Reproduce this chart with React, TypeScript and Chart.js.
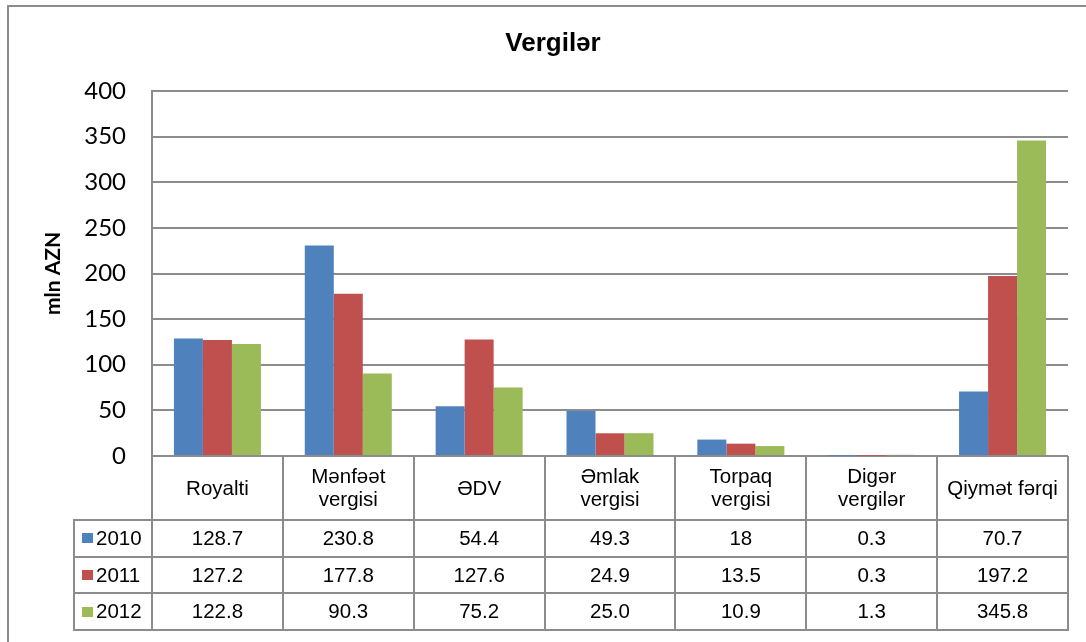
import React, { useEffect, useRef } from "react";
import { Chart, registerables } from "chart.js";

Chart.register(...registerables);

const TITLE = "Vergilər";
const Y_TITLE = "mln AZN";
const categories: string[][] = [
  ["Royalti"],
  ["Mənfəət", "vergisi"],
  ["ƏDV"],
  ["Əmlak", "vergisi"],
  ["Torpaq", "vergisi"],
  ["Digər", "vergilər"],
  ["Qiymət fərqi"],
];
const seriesNames = ["2010", "2011", "2012"];
const seriesColors = ["#4F81BD", "#C0504D", "#9BBB59"];
const values2010 = ["128.7", "230.8", "54.4", "49.3", "18", "0.3", "70.7"];
const values2011 = ["127.2", "177.8", "127.6", "24.9", "13.5", "0.3", "197.2"];
const values2012 = ["122.8", "90.3", "75.2", "25.0", "10.9", "1.3", "345.8"];
const yTicks = [0, 50, 100, 150, 200, 250, 300, 350, 400];

const seriesValues = [values2010, values2011, values2012];

const GRID = "#8c8c8c";
const TABLE_FONT = "20.5px 'Liberation Sans', Arial, sans-serif";

const tablePlugin = {
  id: "dataTable",
  afterDraw(chart: any) {
    const ctx = chart.ctx as CanvasRenderingContext2D;
    const area = chart.chartArea;
    const n = categories.length;
    const cw = (area.right - area.left) / n;
    const axisY = area.bottom;
    const headerBottom = 520;
    const rowH = 36.7;
    const rowsY = [headerBottom, headerBottom + rowH, headerBottom + 2 * rowH, headerBottom + 3 * rowH];
    const legendLeft = 74;

    ctx.save();
    // outer chart border
    ctx.strokeStyle = GRID;
    ctx.lineWidth = 2;
    ctx.beginPath();
    ctx.moveTo(8, 650);
    ctx.lineTo(8, 6);
    ctx.lineTo(1100, 6);
    ctx.stroke();

    // title
    ctx.fillStyle = "#000";
    ctx.font = "bold 26px 'Liberation Sans', Arial, sans-serif";
    ctx.textAlign = "center";
    ctx.textBaseline = "middle";
    ctx.fillText(TITLE, 553, 44);

    // table lines
    ctx.strokeStyle = GRID;
    ctx.lineWidth = 2;
    ctx.beginPath();
    for (let i = 0; i <= n; i++) {
      const x = Math.round(area.left + i * cw);
      ctx.moveTo(x, axisY);
      ctx.lineTo(x, rowsY[3]);
    }
    ctx.moveTo(legendLeft, rowsY[0]);
    ctx.lineTo(legendLeft, rowsY[3]);
    for (const y of rowsY) {
      ctx.moveTo(legendLeft - 1, Math.round(y));
      ctx.lineTo(area.right + 1, Math.round(y));
    }
    ctx.stroke();

    // header labels
    ctx.fillStyle = "#000";
    ctx.font = TABLE_FONT;
    ctx.textAlign = "center";
    ctx.textBaseline = "middle";
    const headerMid = (axisY + headerBottom) / 2 + 1;
    categories.forEach((lines, i) => {
      const cx = area.left + (i + 0.5) * cw;
      const lh = 23;
      const start = headerMid - ((lines.length - 1) * lh) / 2;
      lines.forEach((t, j) => ctx.fillText(t, cx, start + j * lh));
    });

    // data rows
    seriesValues.forEach((vals, r) => {
      const cy = (rowsY[r] + rowsY[r + 1]) / 2 + 1;
      ctx.textAlign = "center";
      vals.forEach((v, i) => {
        const cx = area.left + (i + 0.5) * cw;
        ctx.fillText(v, cx, cy);
      });
      ctx.fillStyle = seriesColors[r];
      ctx.fillRect(82, Math.round(cy - 6), 11, 10);
      ctx.fillStyle = "#000";
      ctx.textAlign = "left";
      ctx.fillText(seriesNames[r], 96, cy);
    });
    ctx.restore();
  },
};

export default function App() {
  const ref = useRef<HTMLCanvasElement>(null);
  useEffect(() => {
    if (!ref.current) return;
    const chart = new Chart(ref.current, {
      type: "bar",
      data: {
        labels: categories.map((c) => c.join(" ")),
        datasets: seriesNames.map((name, i) => ({
          label: name,
          data: seriesValues[i].map(Number),
          backgroundColor: seriesColors[i],
          borderWidth: 0,
          categoryPercentage: 0.665,
          barPercentage: 1,
        })),
      },
      options: {
        responsive: false,
        animation: false,
        layout: { padding: { left: 0, right: 18, top: 91, bottom: 186 } },
        plugins: {
          legend: { display: false },
          title: { display: false },
          tooltip: { enabled: false },
        },
        scales: {
          x: {
            grid: { display: false },
            border: { display: false },
            ticks: { display: false },
            afterFit: (s: any) => {
              s.height = 0;
            },
          },
          y: {
            min: 0,
            max: 400,
            afterBuildTicks: (s: any) => {
              s.ticks = yTicks.map((v) => ({ value: v }));
            },
            afterFit: (s: any) => {
              s.width = 152;
            },
            grid: { color: GRID, lineWidth: 2, drawTicks: false },
            border: { display: true, color: GRID, width: 2 },
            ticks: {
              padding: 26,
              color: "#000",
              font: { family: "Lato, 'Open Sans', sans-serif", size: 24 },
            },
            title: {
              display: true,
              text: Y_TITLE,
              color: "#000",
              font: { family: "Lato, 'Liberation Sans', sans-serif", size: 21, weight: "bold" },
              padding: { top: 41, bottom: 0 },
            },
          },
        },
      },
      plugins: [tablePlugin],
    });
    return () => chart.destroy();
  }, []);
  return (
    <div style={{ position: "fixed", left: 0, top: 0, width: 1086, height: 642, background: "#fff" }}>
      <canvas ref={ref} width={1086} height={642} style={{ display: "block" }} />
    </div>
  );
}
